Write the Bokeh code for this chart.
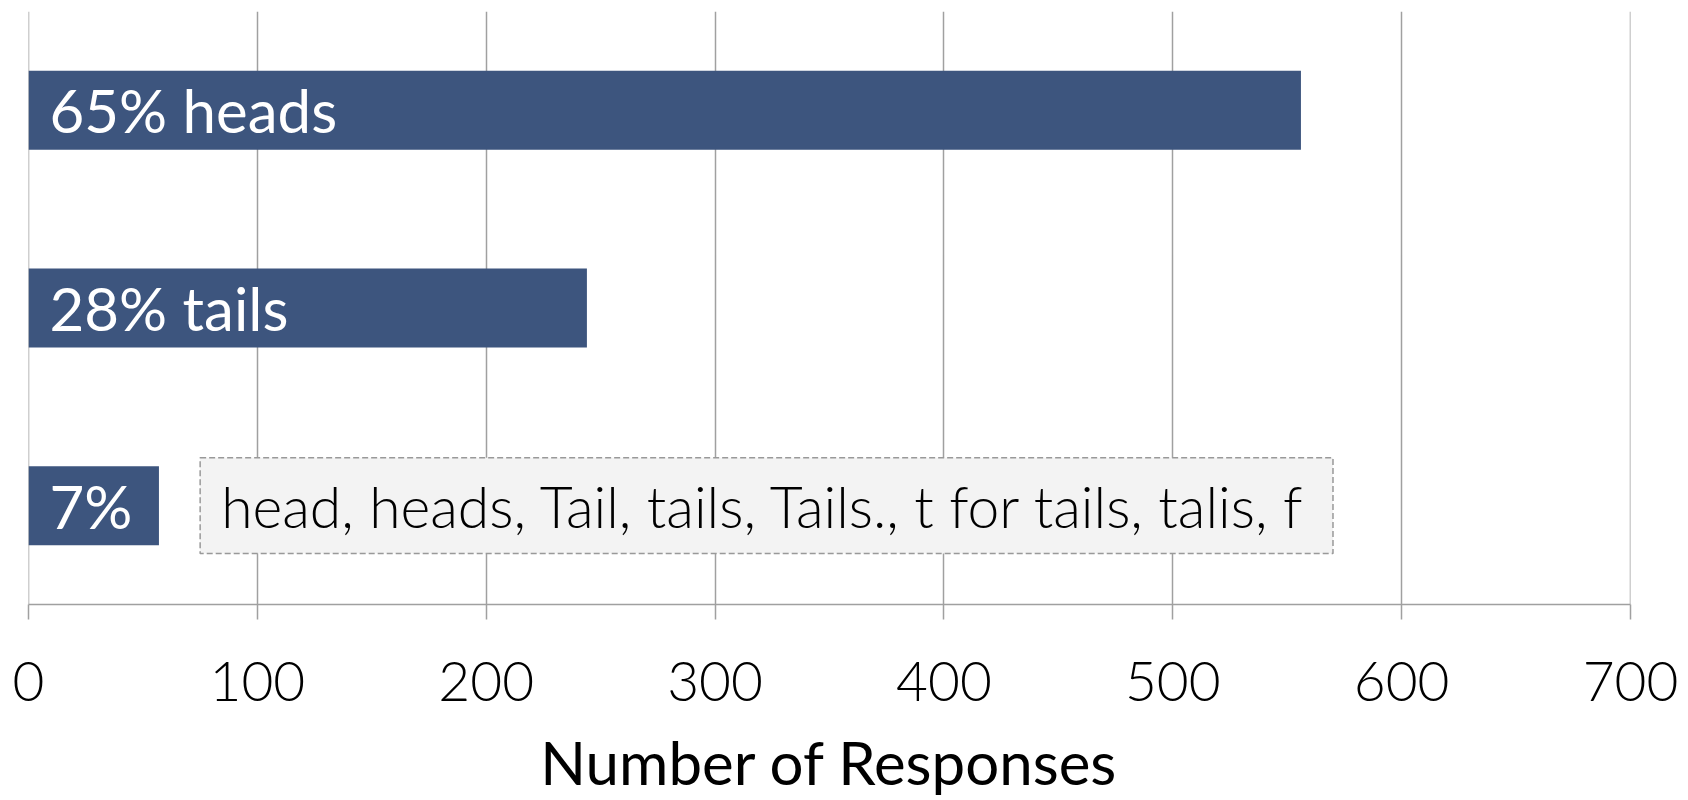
from bokeh.plotting import figure
from bokeh.models import Range1d, FactorRange, ColumnDataSource, FixedTicker, Span
from bokeh.core.properties import value
from bokeh.embed import file_html
from bokeh.resources import INLINE

# Survey: coin-toss call responses
categories = ["heads", "tails", "other"]
responses = [556, 244, 57]
label_words = ["heads", "tails", ""]
other_answers = ["head", "heads", "Tail", "tails", "Tails.", "t for tails", "talis", "f"]
other_box = [75, 570]  # x extent of the note listing the "other" answers
x_ticks = [0, 100, 200, 300, 400, 500, 600, 700]
x_title = "Number of Responses"

total = sum(responses)
pcts = [round(v / total * 100) for v in responses]
labels = [f"{p}% {w}".strip() for p, w in zip(pcts, label_words)]

FONT = "Lato"
LIGHT = "Lato Light"
BAR = "#3d557e"
GRID = "#a0a0a0"

p = figure(
    width=1688, height=800,
    x_range=Range1d(x_ticks[0], x_ticks[-1]),
    y_range=FactorRange(*reversed(categories), range_padding=0),
    output_backend="svg", toolbar_location=None,
    min_border_left=28, min_border_right=58, min_border_top=11, min_border_bottom=194,
)
p.outline_line_color = None
p.background_fill_color = "white"
p.border_fill_color = "white"

# vertical rules at both ends of the value range (the grid skips the range bounds)
for loc in (x_ticks[0], x_ticks[-1]):
    p.add_layout(Span(location=loc, dimension="height", line_color=GRID,
                      line_width=1.5, level="underlay"))

src = ColumnDataSource(dict(cat=categories, val=responses, label=labels, zero=[0] * 3))
p.hbar(y="cat", left="zero", right="val", height=0.40, source=src,
       fill_color=BAR, line_color=None)
p.text(x="zero", y="cat", text="label", source=src, x_offset=21,
       text_font=value(FONT), text_font_size="60px", text_color="white",
       text_baseline="middle", text_align="left")

# note box listing the free-text "other" answers
note = ColumnDataSource(dict(cat=["other"], left=[other_box[0]], right=[other_box[1]],
                             txt=[", ".join(other_answers)]))
p.hbar(y="cat", left="left", right="right", height=0.485, source=note,
       fill_color="#f3f3f3", line_color="#999999", line_width=1.5, line_dash="6 3")
p.text(x="left", y="cat", text="txt", source=note, x_offset=21,
       text_font=value(LIGHT), text_font_size="57px", text_color="black",
       text_baseline="middle", text_align="left")

p.yaxis.visible = False
p.ygrid.visible = False
p.xgrid.ticker = FixedTicker(ticks=x_ticks)
p.xgrid.grid_line_color = GRID
p.xgrid.grid_line_width = 1.5
p.xgrid.level = "underlay"

ax = p.xaxis[0]
ax.ticker = FixedTicker(ticks=x_ticks)
ax.axis_line_color = GRID
ax.axis_line_width = 1.5
ax.major_tick_line_color = GRID
ax.major_tick_line_width = 1.5
ax.major_tick_out = 15
ax.major_tick_in = 0
ax.minor_tick_line_color = None
ax.major_label_text_font = LIGHT
ax.major_label_text_font_size = "55px"
ax.major_label_text_color = "black"
ax.major_label_standoff = 42
ax.axis_label = x_title
ax.axis_label_text_font = FONT
ax.axis_label_text_font_style = "normal"
ax.axis_label_text_font_size = "60px"
ax.axis_label_text_color = "black"
ax.axis_label_standoff = 22

open("out.html", "w").write(file_html(p, INLINE))
